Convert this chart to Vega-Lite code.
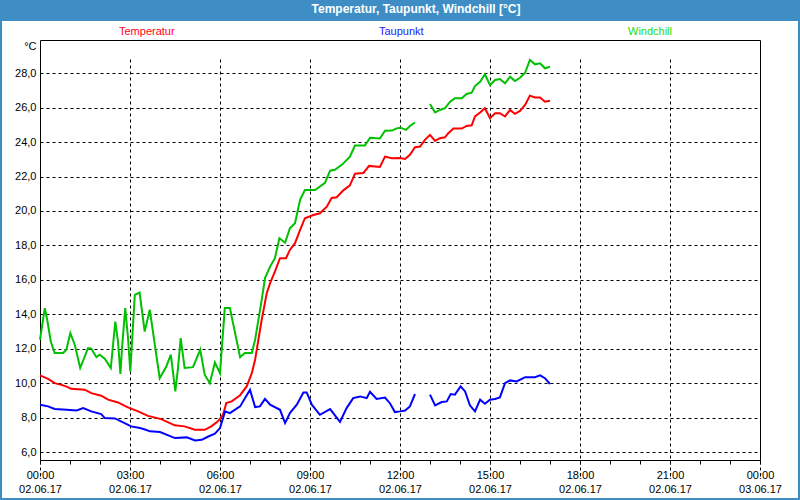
{
  "$schema": "https://vega.github.io/schema/vega-lite/v6.json",
  "width": 796,
  "height": 477,
  "autosize": {"type": "none"},
  "padding": {"left": 2, "top": 21, "right": 2, "bottom": 2},
  "background": "#3e8ec5",
  "title": {"text": "Temperatur, Taupunkt, Windchill [°C]", "color": "white", "font": "Liberation Sans", "fontSize": 12, "fontWeight": "bold", "anchor": "middle", "orient": "top", "offset": 0, "baseline": "middle", "dx": 16},
  "config": {
    "view": {"fill": "white", "stroke": null},
    "axis": {"labelFont": "Liberation Sans", "labelFontSize": 11, "labelColor": "black", "domainColor": "black", "domainWidth": 1, "tickColor": "black", "gridColor": "black", "gridDash": [3, 3], "gridOpacity": 1, "gridWidth": 1, "titleFont": "Liberation Sans", "titleFontSize": 11, "titleFontWeight": "normal", "titleColor": "black"},
    "legend": {"labelFont": "Liberation Sans", "labelFontSize": 11}
  },
  "datasets": {
    "rows": [
      {"h": 0.0, "s": "Temperatur", "v": 10.45, "g": 1},
      {"h": 0.27, "s": "Temperatur", "v": 10.25, "g": 1},
      {"h": 0.49, "s": "Temperatur", "v": 10.0, "g": 1},
      {"h": 0.71, "s": "Temperatur", "v": 9.9, "g": 1},
      {"h": 0.89, "s": "Temperatur", "v": 9.8, "g": 1},
      {"h": 1.04, "s": "Temperatur", "v": 9.67, "g": 1},
      {"h": 1.49, "s": "Temperatur", "v": 9.62, "g": 1},
      {"h": 1.71, "s": "Temperatur", "v": 9.42, "g": 1},
      {"h": 2.04, "s": "Temperatur", "v": 9.27, "g": 1},
      {"h": 2.27, "s": "Temperatur", "v": 9.04, "g": 1},
      {"h": 2.6, "s": "Temperatur", "v": 8.88, "g": 1},
      {"h": 2.93, "s": "Temperatur", "v": 8.59, "g": 1},
      {"h": 3.27, "s": "Temperatur", "v": 8.36, "g": 1},
      {"h": 3.6, "s": "Temperatur", "v": 8.1, "g": 1},
      {"h": 4.04, "s": "Temperatur", "v": 7.91, "g": 1},
      {"h": 4.49, "s": "Temperatur", "v": 7.55, "g": 1},
      {"h": 4.82, "s": "Temperatur", "v": 7.49, "g": 1},
      {"h": 5.16, "s": "Temperatur", "v": 7.29, "g": 1},
      {"h": 5.49, "s": "Temperatur", "v": 7.29, "g": 1},
      {"h": 5.71, "s": "Temperatur", "v": 7.49, "g": 1},
      {"h": 5.93, "s": "Temperatur", "v": 7.78, "g": 1},
      {"h": 6.1, "s": "Temperatur", "v": 8.16, "g": 1},
      {"h": 6.21, "s": "Temperatur", "v": 8.84, "g": 1},
      {"h": 6.39, "s": "Temperatur", "v": 8.94, "g": 1},
      {"h": 6.67, "s": "Temperatur", "v": 9.3, "g": 1},
      {"h": 6.89, "s": "Temperatur", "v": 9.81, "g": 1},
      {"h": 7.06, "s": "Temperatur", "v": 10.58, "g": 1},
      {"h": 7.17, "s": "Temperatur", "v": 11.36, "g": 1},
      {"h": 7.28, "s": "Temperatur", "v": 12.52, "g": 1},
      {"h": 7.39, "s": "Temperatur", "v": 13.68, "g": 1},
      {"h": 7.56, "s": "Temperatur", "v": 15.23, "g": 1},
      {"h": 7.67, "s": "Temperatur", "v": 15.81, "g": 1},
      {"h": 7.83, "s": "Temperatur", "v": 16.48, "g": 1},
      {"h": 8.0, "s": "Temperatur", "v": 17.26, "g": 1},
      {"h": 8.2, "s": "Temperatur", "v": 17.26, "g": 1},
      {"h": 8.33, "s": "Temperatur", "v": 17.74, "g": 1},
      {"h": 8.5, "s": "Temperatur", "v": 18.13, "g": 1},
      {"h": 8.67, "s": "Temperatur", "v": 18.9, "g": 1},
      {"h": 8.83, "s": "Temperatur", "v": 19.58, "g": 1},
      {"h": 9.11, "s": "Temperatur", "v": 19.77, "g": 1},
      {"h": 9.33, "s": "Temperatur", "v": 19.87, "g": 1},
      {"h": 9.56, "s": "Temperatur", "v": 20.25, "g": 1},
      {"h": 9.72, "s": "Temperatur", "v": 20.76, "g": 1},
      {"h": 9.89, "s": "Temperatur", "v": 20.8, "g": 1},
      {"h": 10.11, "s": "Temperatur", "v": 21.2, "g": 1},
      {"h": 10.33, "s": "Temperatur", "v": 21.49, "g": 1},
      {"h": 10.5, "s": "Temperatur", "v": 22.17, "g": 1},
      {"h": 10.78, "s": "Temperatur", "v": 22.21, "g": 1},
      {"h": 10.97, "s": "Temperatur", "v": 22.62, "g": 1},
      {"h": 11.33, "s": "Temperatur", "v": 22.56, "g": 1},
      {"h": 11.5, "s": "Temperatur", "v": 23.16, "g": 1},
      {"h": 11.73, "s": "Temperatur", "v": 23.06, "g": 1},
      {"h": 12.0, "s": "Temperatur", "v": 23.08, "g": 1},
      {"h": 12.17, "s": "Temperatur", "v": 23.02, "g": 1},
      {"h": 12.33, "s": "Temperatur", "v": 23.26, "g": 1},
      {"h": 12.5, "s": "Temperatur", "v": 23.7, "g": 1},
      {"h": 12.67, "s": "Temperatur", "v": 23.74, "g": 1},
      {"h": 12.83, "s": "Temperatur", "v": 24.13, "g": 1},
      {"h": 13.0, "s": "Temperatur", "v": 24.42, "g": 1},
      {"h": 13.17, "s": "Temperatur", "v": 24.07, "g": 1},
      {"h": 13.33, "s": "Temperatur", "v": 24.23, "g": 1},
      {"h": 13.5, "s": "Temperatur", "v": 24.28, "g": 1},
      {"h": 13.61, "s": "Temperatur", "v": 24.52, "g": 1},
      {"h": 13.78, "s": "Temperatur", "v": 24.79, "g": 1},
      {"h": 14.06, "s": "Temperatur", "v": 24.79, "g": 1},
      {"h": 14.22, "s": "Temperatur", "v": 24.94, "g": 1},
      {"h": 14.39, "s": "Temperatur", "v": 24.98, "g": 1},
      {"h": 14.5, "s": "Temperatur", "v": 25.49, "g": 1},
      {"h": 14.67, "s": "Temperatur", "v": 25.72, "g": 1},
      {"h": 14.83, "s": "Temperatur", "v": 25.97, "g": 1},
      {"h": 15.0, "s": "Temperatur", "v": 25.39, "g": 1},
      {"h": 15.17, "s": "Temperatur", "v": 25.68, "g": 1},
      {"h": 15.33, "s": "Temperatur", "v": 25.68, "g": 1},
      {"h": 15.5, "s": "Temperatur", "v": 25.49, "g": 1},
      {"h": 15.67, "s": "Temperatur", "v": 25.87, "g": 1},
      {"h": 15.83, "s": "Temperatur", "v": 25.64, "g": 1},
      {"h": 16.0, "s": "Temperatur", "v": 25.81, "g": 1},
      {"h": 16.17, "s": "Temperatur", "v": 26.16, "g": 1},
      {"h": 16.33, "s": "Temperatur", "v": 26.7, "g": 1},
      {"h": 16.5, "s": "Temperatur", "v": 26.59, "g": 1},
      {"h": 16.67, "s": "Temperatur", "v": 26.59, "g": 1},
      {"h": 16.83, "s": "Temperatur", "v": 26.35, "g": 1},
      {"h": 17.0, "s": "Temperatur", "v": 26.41, "g": 1},

      {"h": 0.0, "s": "Taupunkt", "v": 8.75, "g": 1},
      {"h": 0.27, "s": "Taupunkt", "v": 8.65, "g": 1},
      {"h": 0.49, "s": "Taupunkt", "v": 8.5, "g": 1},
      {"h": 0.89, "s": "Taupunkt", "v": 8.45, "g": 1},
      {"h": 1.22, "s": "Taupunkt", "v": 8.41, "g": 1},
      {"h": 1.44, "s": "Taupunkt", "v": 8.55, "g": 1},
      {"h": 1.71, "s": "Taupunkt", "v": 8.36, "g": 1},
      {"h": 2.04, "s": "Taupunkt", "v": 8.2, "g": 1},
      {"h": 2.16, "s": "Taupunkt", "v": 7.97, "g": 1},
      {"h": 2.5, "s": "Taupunkt", "v": 7.95, "g": 1},
      {"h": 2.82, "s": "Taupunkt", "v": 7.68, "g": 1},
      {"h": 3.04, "s": "Taupunkt", "v": 7.49, "g": 1},
      {"h": 3.33, "s": "Taupunkt", "v": 7.39, "g": 1},
      {"h": 3.5, "s": "Taupunkt", "v": 7.31, "g": 1},
      {"h": 3.67, "s": "Taupunkt", "v": 7.2, "g": 1},
      {"h": 4.0, "s": "Taupunkt", "v": 7.16, "g": 1},
      {"h": 4.5, "s": "Taupunkt", "v": 6.81, "g": 1},
      {"h": 4.89, "s": "Taupunkt", "v": 6.85, "g": 1},
      {"h": 5.17, "s": "Taupunkt", "v": 6.67, "g": 1},
      {"h": 5.39, "s": "Taupunkt", "v": 6.71, "g": 1},
      {"h": 5.61, "s": "Taupunkt", "v": 6.9, "g": 1},
      {"h": 5.83, "s": "Taupunkt", "v": 7.06, "g": 1},
      {"h": 6.0, "s": "Taupunkt", "v": 7.39, "g": 1},
      {"h": 6.17, "s": "Taupunkt", "v": 8.36, "g": 1},
      {"h": 6.33, "s": "Taupunkt", "v": 8.26, "g": 1},
      {"h": 6.67, "s": "Taupunkt", "v": 8.65, "g": 1},
      {"h": 7.0, "s": "Taupunkt", "v": 9.62, "g": 1},
      {"h": 7.17, "s": "Taupunkt", "v": 8.61, "g": 1},
      {"h": 7.33, "s": "Taupunkt", "v": 8.65, "g": 1},
      {"h": 7.5, "s": "Taupunkt", "v": 9.09, "g": 1},
      {"h": 7.67, "s": "Taupunkt", "v": 8.75, "g": 1},
      {"h": 8.0, "s": "Taupunkt", "v": 8.45, "g": 1},
      {"h": 8.17, "s": "Taupunkt", "v": 7.68, "g": 1},
      {"h": 8.33, "s": "Taupunkt", "v": 8.26, "g": 1},
      {"h": 8.56, "s": "Taupunkt", "v": 8.75, "g": 1},
      {"h": 8.78, "s": "Taupunkt", "v": 9.46, "g": 1},
      {"h": 8.89, "s": "Taupunkt", "v": 9.46, "g": 1},
      {"h": 9.06, "s": "Taupunkt", "v": 8.75, "g": 1},
      {"h": 9.33, "s": "Taupunkt", "v": 8.16, "g": 1},
      {"h": 9.67, "s": "Taupunkt", "v": 8.49, "g": 1},
      {"h": 10.0, "s": "Taupunkt", "v": 7.75, "g": 1},
      {"h": 10.22, "s": "Taupunkt", "v": 8.55, "g": 1},
      {"h": 10.44, "s": "Taupunkt", "v": 9.13, "g": 1},
      {"h": 10.67, "s": "Taupunkt", "v": 9.23, "g": 1},
      {"h": 10.89, "s": "Taupunkt", "v": 9.13, "g": 1},
      {"h": 11.0, "s": "Taupunkt", "v": 9.5, "g": 1},
      {"h": 11.22, "s": "Taupunkt", "v": 9.08, "g": 1},
      {"h": 11.5, "s": "Taupunkt", "v": 9.16, "g": 1},
      {"h": 11.67, "s": "Taupunkt", "v": 8.82, "g": 1},
      {"h": 11.83, "s": "Taupunkt", "v": 8.32, "g": 1},
      {"h": 12.0, "s": "Taupunkt", "v": 8.36, "g": 1},
      {"h": 12.17, "s": "Taupunkt", "v": 8.41, "g": 1},
      {"h": 12.33, "s": "Taupunkt", "v": 8.65, "g": 1},
      {"h": 12.5, "s": "Taupunkt", "v": 9.37, "g": 1},
      {"h": 13.0, "s": "Taupunkt", "v": 9.33, "g": 2},
      {"h": 13.17, "s": "Taupunkt", "v": 8.71, "g": 2},
      {"h": 13.39, "s": "Taupunkt", "v": 8.9, "g": 2},
      {"h": 13.56, "s": "Taupunkt", "v": 8.94, "g": 2},
      {"h": 13.69, "s": "Taupunkt", "v": 9.37, "g": 2},
      {"h": 13.83, "s": "Taupunkt", "v": 9.33, "g": 2},
      {"h": 14.02, "s": "Taupunkt", "v": 9.81, "g": 2},
      {"h": 14.17, "s": "Taupunkt", "v": 9.52, "g": 2},
      {"h": 14.33, "s": "Taupunkt", "v": 8.71, "g": 2},
      {"h": 14.5, "s": "Taupunkt", "v": 8.36, "g": 2},
      {"h": 14.67, "s": "Taupunkt", "v": 9.04, "g": 2},
      {"h": 14.83, "s": "Taupunkt", "v": 8.8, "g": 2},
      {"h": 15.0, "s": "Taupunkt", "v": 9.04, "g": 2},
      {"h": 15.17, "s": "Taupunkt", "v": 9.08, "g": 2},
      {"h": 15.33, "s": "Taupunkt", "v": 9.17, "g": 2},
      {"h": 15.5, "s": "Taupunkt", "v": 10.0, "g": 2},
      {"h": 15.67, "s": "Taupunkt", "v": 10.16, "g": 2},
      {"h": 15.89, "s": "Taupunkt", "v": 10.1, "g": 2},
      {"h": 16.06, "s": "Taupunkt", "v": 10.25, "g": 2},
      {"h": 16.17, "s": "Taupunkt", "v": 10.35, "g": 2},
      {"h": 16.5, "s": "Taupunkt", "v": 10.35, "g": 2},
      {"h": 16.67, "s": "Taupunkt", "v": 10.45, "g": 2},
      {"h": 16.83, "s": "Taupunkt", "v": 10.29, "g": 2},
      {"h": 17.0, "s": "Taupunkt", "v": 9.95, "g": 2},

      {"h": 0.0, "s": "Windchill", "v": 12.52, "g": 1},
      {"h": 0.16, "s": "Windchill", "v": 14.36, "g": 1},
      {"h": 0.24, "s": "Windchill", "v": 13.68, "g": 1},
      {"h": 0.36, "s": "Windchill", "v": 12.42, "g": 1},
      {"h": 0.49, "s": "Windchill", "v": 11.75, "g": 1},
      {"h": 0.77, "s": "Windchill", "v": 11.75, "g": 1},
      {"h": 0.88, "s": "Windchill", "v": 11.94, "g": 1},
      {"h": 1.01, "s": "Windchill", "v": 12.91, "g": 1},
      {"h": 1.16, "s": "Windchill", "v": 12.23, "g": 1},
      {"h": 1.34, "s": "Windchill", "v": 10.88, "g": 1},
      {"h": 1.6, "s": "Windchill", "v": 12.04, "g": 1},
      {"h": 1.71, "s": "Windchill", "v": 12.0, "g": 1},
      {"h": 1.88, "s": "Windchill", "v": 11.51, "g": 1},
      {"h": 1.99, "s": "Windchill", "v": 11.65, "g": 1},
      {"h": 2.16, "s": "Windchill", "v": 11.42, "g": 1},
      {"h": 2.36, "s": "Windchill", "v": 10.88, "g": 1},
      {"h": 2.51, "s": "Windchill", "v": 13.58, "g": 1},
      {"h": 2.6, "s": "Windchill", "v": 12.42, "g": 1},
      {"h": 2.68, "s": "Windchill", "v": 10.53, "g": 1},
      {"h": 2.73, "s": "Windchill", "v": 11.94, "g": 1},
      {"h": 2.84, "s": "Windchill", "v": 14.36, "g": 1},
      {"h": 2.93, "s": "Windchill", "v": 12.71, "g": 1},
      {"h": 3.01, "s": "Windchill", "v": 10.68, "g": 1},
      {"h": 3.16, "s": "Windchill", "v": 15.13, "g": 1},
      {"h": 3.32, "s": "Windchill", "v": 15.26, "g": 1},
      {"h": 3.49, "s": "Windchill", "v": 13.0, "g": 1},
      {"h": 3.66, "s": "Windchill", "v": 14.26, "g": 1},
      {"h": 3.82, "s": "Windchill", "v": 12.33, "g": 1},
      {"h": 3.99, "s": "Windchill", "v": 10.29, "g": 1},
      {"h": 4.21, "s": "Windchill", "v": 10.97, "g": 1},
      {"h": 4.36, "s": "Windchill", "v": 11.65, "g": 1},
      {"h": 4.43, "s": "Windchill", "v": 10.68, "g": 1},
      {"h": 4.51, "s": "Windchill", "v": 9.52, "g": 1},
      {"h": 4.6, "s": "Windchill", "v": 10.88, "g": 1},
      {"h": 4.69, "s": "Windchill", "v": 12.62, "g": 1},
      {"h": 4.82, "s": "Windchill", "v": 10.88, "g": 1},
      {"h": 5.1, "s": "Windchill", "v": 10.93, "g": 1},
      {"h": 5.34, "s": "Windchill", "v": 11.94, "g": 1},
      {"h": 5.49, "s": "Windchill", "v": 10.49, "g": 1},
      {"h": 5.66, "s": "Windchill", "v": 10.0, "g": 1},
      {"h": 5.83, "s": "Windchill", "v": 11.2, "g": 1},
      {"h": 6.0, "s": "Windchill", "v": 10.58, "g": 1},
      {"h": 6.16, "s": "Windchill", "v": 14.36, "g": 1},
      {"h": 6.33, "s": "Windchill", "v": 14.36, "g": 1},
      {"h": 6.67, "s": "Windchill", "v": 11.51, "g": 1},
      {"h": 6.83, "s": "Windchill", "v": 11.75, "g": 1},
      {"h": 7.06, "s": "Windchill", "v": 11.75, "g": 1},
      {"h": 7.17, "s": "Windchill", "v": 12.52, "g": 1},
      {"h": 7.28, "s": "Windchill", "v": 13.68, "g": 1},
      {"h": 7.39, "s": "Windchill", "v": 14.84, "g": 1},
      {"h": 7.5, "s": "Windchill", "v": 16.1, "g": 1},
      {"h": 7.67, "s": "Windchill", "v": 16.77, "g": 1},
      {"h": 7.83, "s": "Windchill", "v": 17.26, "g": 1},
      {"h": 7.98, "s": "Windchill", "v": 18.42, "g": 1},
      {"h": 8.17, "s": "Windchill", "v": 18.16, "g": 1},
      {"h": 8.33, "s": "Windchill", "v": 19.0, "g": 1},
      {"h": 8.5, "s": "Windchill", "v": 19.29, "g": 1},
      {"h": 8.67, "s": "Windchill", "v": 20.65, "g": 1},
      {"h": 8.83, "s": "Windchill", "v": 21.22, "g": 1},
      {"h": 9.17, "s": "Windchill", "v": 21.22, "g": 1},
      {"h": 9.5, "s": "Windchill", "v": 21.63, "g": 1},
      {"h": 9.67, "s": "Windchill", "v": 22.34, "g": 1},
      {"h": 9.83, "s": "Windchill", "v": 22.39, "g": 1},
      {"h": 10.08, "s": "Windchill", "v": 22.71, "g": 1},
      {"h": 10.33, "s": "Windchill", "v": 23.16, "g": 1},
      {"h": 10.5, "s": "Windchill", "v": 23.8, "g": 1},
      {"h": 10.83, "s": "Windchill", "v": 23.8, "g": 1},
      {"h": 11.0, "s": "Windchill", "v": 24.25, "g": 1},
      {"h": 11.33, "s": "Windchill", "v": 24.21, "g": 1},
      {"h": 11.5, "s": "Windchill", "v": 24.66, "g": 1},
      {"h": 11.73, "s": "Windchill", "v": 24.67, "g": 1},
      {"h": 11.89, "s": "Windchill", "v": 24.8, "g": 1},
      {"h": 12.02, "s": "Windchill", "v": 24.84, "g": 1},
      {"h": 12.2, "s": "Windchill", "v": 24.71, "g": 1},
      {"h": 12.33, "s": "Windchill", "v": 24.94, "g": 1},
      {"h": 12.5, "s": "Windchill", "v": 25.14, "g": 1},
      {"h": 13.0, "s": "Windchill", "v": 26.21, "g": 2},
      {"h": 13.17, "s": "Windchill", "v": 25.72, "g": 2},
      {"h": 13.33, "s": "Windchill", "v": 25.87, "g": 2},
      {"h": 13.5, "s": "Windchill", "v": 25.97, "g": 2},
      {"h": 13.67, "s": "Windchill", "v": 26.35, "g": 2},
      {"h": 13.83, "s": "Windchill", "v": 26.55, "g": 2},
      {"h": 14.06, "s": "Windchill", "v": 26.55, "g": 2},
      {"h": 14.22, "s": "Windchill", "v": 26.8, "g": 2},
      {"h": 14.39, "s": "Windchill", "v": 26.87, "g": 2},
      {"h": 14.5, "s": "Windchill", "v": 27.26, "g": 2},
      {"h": 14.67, "s": "Windchill", "v": 27.51, "g": 2},
      {"h": 14.83, "s": "Windchill", "v": 27.94, "g": 2},
      {"h": 15.0, "s": "Windchill", "v": 27.32, "g": 2},
      {"h": 15.17, "s": "Windchill", "v": 27.61, "g": 2},
      {"h": 15.33, "s": "Windchill", "v": 27.67, "g": 2},
      {"h": 15.5, "s": "Windchill", "v": 27.42, "g": 2},
      {"h": 15.67, "s": "Windchill", "v": 27.8, "g": 2},
      {"h": 15.83, "s": "Windchill", "v": 27.55, "g": 2},
      {"h": 16.0, "s": "Windchill", "v": 27.74, "g": 2},
      {"h": 16.17, "s": "Windchill", "v": 28.03, "g": 2},
      {"h": 16.33, "s": "Windchill", "v": 28.77, "g": 2},
      {"h": 16.5, "s": "Windchill", "v": 28.52, "g": 2},
      {"h": 16.67, "s": "Windchill", "v": 28.58, "g": 2},
      {"h": 16.83, "s": "Windchill", "v": 28.29, "g": 2},
      {"h": 17.0, "s": "Windchill", "v": 28.38, "g": 2}
    ]
  },
  "data": {"name": "rows"},
  "layer": [
    {
      "mark": {"type": "line", "strokeWidth": 2},
      "encoding": {
        "x": {
          "field": "h", "type": "quantitative",
          "scale": {"domain": [0, 24], "range": [38, 758], "nice": false, "zero": false},
          "axis": {
            "orient": "bottom", "offset": -38, "title": null,
            "values": [0,1,2,3,4,5,6,7,8,9,10,11,12,13,14,15,16,17,18,19,20,21,22,23,24],
            "labelExpr": "datum.value % 3 != 0 ? '' : [timeFormat(datetime(2017, 5, 2, datum.value, 0), '%H:%M'), timeFormat(datetime(2017, 5, 2, datum.value, 0), '%d.%m.%y')]",
            "labelFlush": false, "labelOverlap": false, "labelBound": false,
            "labelBaseline": "top", "labelLineHeight": 14, "labelPadding": 5,
            "tickSize": 4, "ticks": true,
            "gridOpacity": {"condition": {"test": "datum.value % 3 == 0", "value": 1}, "value": 0}
          }
        },
        "y": {
          "field": "v", "type": "quantitative",
          "scale": {"domain": [5.536, 29.933], "range": [439, 19], "nice": false, "zero": false},
          "axis": {
            "orient": "left", "offset": -38,
            "values": [6, 8, 10, 12, 14, 16, 18, 20, 22, 24, 26, 28],
            "labelExpr": "replace(format(datum.value, '.1f'), '.', ',')",
            "ticks": false, "labelPadding": 4, "labelOverlap": false, "labelFlush": false,
            "title": "°C", "titleAngle": 0, "titleAlign": "right", "titleBaseline": "middle", "titleX": -4, "titleY": 25
          }
        },
        "color": {
          "field": "s", "type": "nominal",
          "scale": {"domain": ["Temperatur", "Taupunkt", "Windchill"], "range": ["#ff0000", "#0000ff", "#00c000"]},
          "legend": {
            "orient": "none", "legendX": 106, "legendY": 5, "direction": "horizontal", "title": null,
            "symbolSize": 0, "symbolStrokeWidth": 0, "symbolOpacity": 0, "labelOffset": 0, "columnPadding": 193, "padding": 0,
            "labelBaseline": "middle",
            "labelColor": {"expr": "datum.value == 'Temperatur' ? '#ff0022' : datum.value == 'Taupunkt' ? '#1a1aff' : '#22dd00'"}
          }
        },
        "detail": {"field": "g", "type": "nominal"}
      }
    },
    {
      "mark": {"type": "point", "opacity": 0},
      "encoding": {
        "x": {"field": "h", "type": "quantitative", "scale": {"domain": [0, 24], "range": [38, 758], "nice": false, "zero": false},
          "axis": {"orient": "top", "offset": -19, "labels": false, "ticks": false, "grid": false, "title": null}},
        "y": {"field": "v", "type": "quantitative", "scale": {"domain": [5.536, 29.933], "range": [439, 19], "nice": false, "zero": false},
          "axis": {"orient": "right", "offset": -38, "labels": false, "ticks": false, "grid": false, "title": null}}
      }
    }
  ],
  "resolve": {"axis": {"x": "independent", "y": "independent"}}
}
